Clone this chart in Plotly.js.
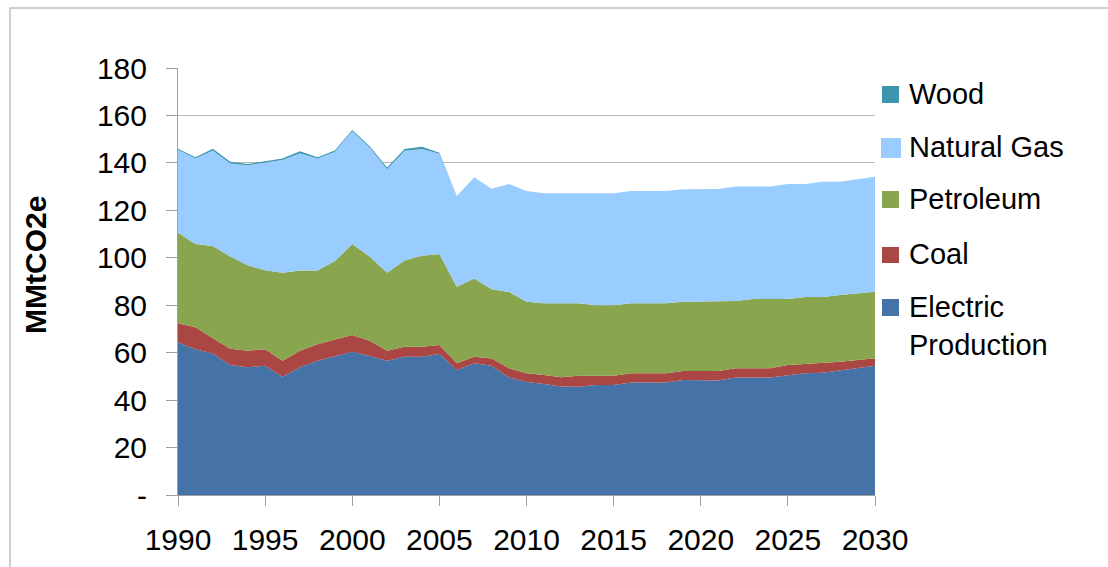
<!DOCTYPE html>
<html>
<head>
<meta charset="utf-8">
<script src="https://cdn.plot.ly/plotly-3.0.1.min.js"></script>
<style>html,body{margin:0;padding:0;background:#fff;}#chart{width:1108px;height:567px;}</style>
</head>
<body>
<div id="chart"></div>
<script>
const years = [];
for (let y = 1990; y <= 2030; y++) years.push(y);

const electric = [64.4,61.4,59.7,54.8,53.8,54.5,49.9,53.8,56.6,58.6,60.4,58.6,56.6,58.3,58.3,59.4,52.7,55.5,54.5,49.5,47.6,46.8,45.7,45.6,46.4,46.4,47.4,47.4,47.4,48.5,48.3,48.3,49.5,49.5,49.5,50.5,51.3,51.5,52.5,53.5,54.5];
const coal = [8.0,9.3,6.4,6.9,7.0,6.9,6.7,7.0,6.9,7.0,7.1,6.4,4.2,4.2,4.2,3.8,2.8,2.8,3.0,3.9,3.7,3.8,3.9,4.7,3.9,3.9,3.9,3.9,3.9,3.8,4.0,4.0,3.9,3.9,3.9,4.3,4.0,4.0,3.7,3.4,3.1];
const petroleum = [38.2,35.1,38.9,38.8,36.0,33.3,37.1,33.8,31.1,33.0,38.3,35.5,32.9,36.3,38.4,38.4,32.3,33.0,29.2,32.2,30.2,30.2,31.2,30.5,29.7,29.7,29.5,29.5,29.5,29.2,29.2,29.2,28.4,29.2,29.2,27.8,28.2,28.0,28.1,28.1,28.1];
const naturalGas = [34.9,36.1,40.2,39.2,42.2,45.4,47.5,49.5,47.3,46.1,47.5,46.0,43.6,46.3,45.0,42.2,38.2,42.6,42.4,45.5,46.7,46.4,46.4,46.4,47.2,47.2,47.4,47.4,47.4,47.4,47.4,47.5,48.2,47.4,47.4,48.5,47.6,48.6,47.8,48.1,48.5];
const wood = [0.5,0.5,0.8,0.8,0.5,0.7,0.6,0.8,0.5,0.5,0.6,0.5,0.8,0.8,0.9,0.5,0,0,0,0,0,0,0,0,0,0,0,0,0,0,0,0,0,0,0,0,0,0,0,0,0];

const seriesNames = ["Electric Production", "Coal", "Petroleum", "Natural Gas", "Wood"];
const seriesValues = [electric, coal, petroleum, naturalGas, wood];
const seriesColors = ["#4572A7", "#AA4643", "#89A54E", "#99CCFF", "#3D96AE"];

const yTickVals = [0,20,40,60,80,100,120,140,160,180];
const yTickText = ["-","20","40","60","80","100","120","140","160","180"];
const yTitle = "MMtCO2e";

// layout geometry (pixels)
const W = 1108, H = 567, L = 178, R = 875, T = 68, B = 495;
const px = x => (x - L) / (R - L);
const py = y => (B - y) / (B - T);

const traces = seriesNames.map((n, i) => ({
  x: years, y: seriesValues[i], name: n, type: "scatter", mode: "lines",
  stackgroup: "one", fillcolor: seriesColors[i],
  line: {width: 0, color: seriesColors[i]}, hoverinfo: "skip", showlegend: false
}));

const FONT = "Liberation Sans, Arial, sans-serif";

// legend (drawn as shapes + annotations)
const legendItems = [
  {name: "Wood", idx: 4, box: [882, 86, 899, 103], ty: 94},
  {name: "Natural Gas", idx: 3, box: [881, 138, 901, 158], ty: 147},
  {name: "Petroleum", idx: 2, box: [882, 191, 899, 208], ty: 199},
  {name: "Coal", idx: 1, box: [882, 247, 899, 263], ty: 254},
  {name: "Electric", idx: 0, box: [882, 299, 899, 316], ty: 307},
  {name: "Production", idx: -1, box: null, ty: 345}
];

const shapes = [{
  type: "rect", xref: "paper", yref: "paper", layer: "below",
  x0: px(10), y0: py(8), x1: px(1200), y1: py(700),
  line: {color: "#c0c0c0", width: 1.5}, fillcolor: "rgba(0,0,0,0)"
}];
const annotations = [{
  text: "<b>" + yTitle + "</b>", xref: "paper", yref: "paper", x: px(35), y: py(265),
  xanchor: "center", yanchor: "middle", textangle: -90, showarrow: false,
  font: {family: FONT, size: 30, color: "#000"}
}];

legendItems.forEach(it => {
  if (it.box) {
    shapes.push({type: "rect", xref: "paper", yref: "paper",
      x0: px(it.box[0]), x1: px(it.box[2]), y0: py(it.box[3]), y1: py(it.box[1]),
      line: {width: 0}, fillcolor: seriesColors[it.idx]});
  }
  annotations.push({text: it.name, xref: "paper", yref: "paper",
    x: px(907), y: py(it.ty), xanchor: "left", yanchor: "middle", showarrow: false,
    font: {family: FONT, size: 29, color: "#000"}});
});

const layout = {
  width: W, height: H,
  margin: {l: L, r: W - R, t: T, b: H - B, pad: 0},
  paper_bgcolor: "#fff", plot_bgcolor: "#fff",
  font: {family: FONT, size: 30, color: "#000"},
  showlegend: false,
  xaxis: {range: [1990, 2030], tick0: 1990, dtick: 5, ticks: "outside", ticklen: 10,
    tickcolor: "#a0a0a0", showline: true, linecolor: "#a0a0a0", linewidth: 1,
    showgrid: false, zeroline: false, tickfont: {size: 30}, ticklabelstandoff: 8, fixedrange: true},
  yaxis: {range: [0, 180], tickmode: "array", tickvals: yTickVals, ticktext: yTickText,
    ticks: "outside", ticklen: 11, tickcolor: "#a0a0a0", showline: true, linecolor: "#a0a0a0",
    linewidth: 1, showgrid: true, gridcolor: "#b8b8b8", gridwidth: 1.2, zeroline: false,
    tickfont: {size: 30}, ticklabelstandoff: 13, fixedrange: true},
  shapes: shapes, annotations: annotations
};

Plotly.newPlot("chart", traces, layout, {displayModeBar: false, staticPlot: true});
</script>
</body>
</html>
